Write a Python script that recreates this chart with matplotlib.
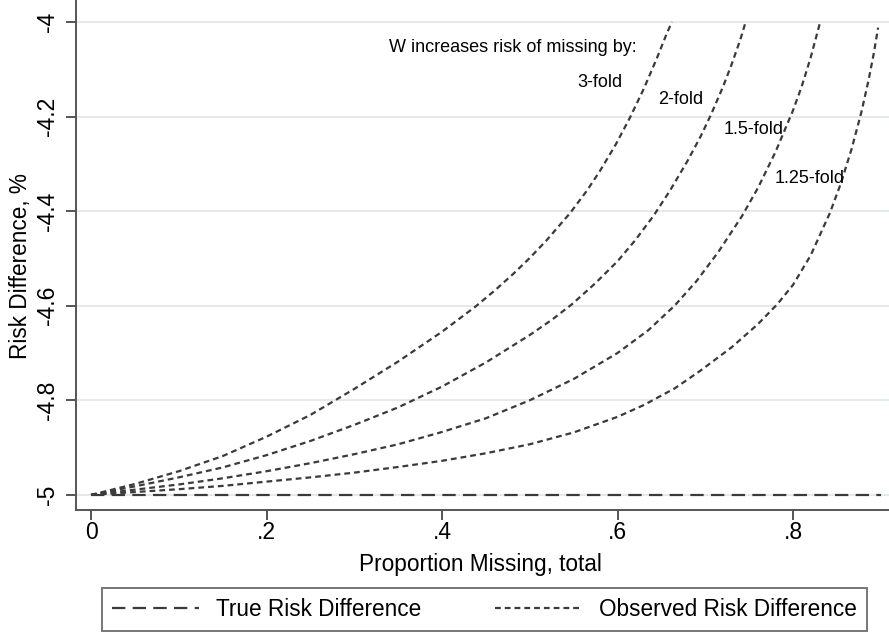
import matplotlib
matplotlib.use("Agg")
import matplotlib.pyplot as plt

plt.rcParams['font.family'] = ['Liberation Sans', 'DejaVu Sans']

# observed risk difference (%) by proportion missing, one curve per fold-increase
x_3fold = [0, 0.05, 0.10, 0.15, 0.20, 0.25, 0.30, 0.35, 0.40, 0.438, 0.46, 0.481, 0.50, 0.519,
           0.546, 0.565, 0.58, 0.598, 0.614, 0.63, 0.645, 0.656, 0.662]
y_3fold = [-5, -4.977, -4.950, -4.918, -4.877, -4.831, -4.776, -4.718, -4.655, -4.602, -4.568, -4.533, -4.499, -4.462,
           -4.404, -4.357, -4.315, -4.259, -4.203, -4.141, -4.076, -4.025, -4.0]

x_2fold = [0, 0.05, 0.10, 0.15, 0.20, 0.25, 0.30, 0.35, 0.40, 0.45, 0.50, 0.525, 0.548, 0.575, 0.60,
           0.62, 0.641, 0.66, 0.68, 0.695, 0.707, 0.72, 0.73, 0.74, 0.746]
y_2fold = [-5, -4.982, -4.963, -4.942, -4.916, -4.886, -4.852, -4.815, -4.771, -4.720, -4.662, -4.630, -4.597, -4.552, -4.506,
           -4.462, -4.410, -4.356, -4.293, -4.241, -4.194, -4.138, -4.090, -4.037, -4.0]

x_15fold = [0, 0.05, 0.10, 0.15, 0.20, 0.25, 0.30, 0.35, 0.40, 0.45, 0.50, 0.55, 0.60, 0.635, 0.665,
            0.69, 0.715, 0.742, 0.76, 0.78, 0.80, 0.81, 0.82, 0.831]
y_15fold = [-5, -4.989, -4.978, -4.965, -4.950, -4.933, -4.914, -4.893, -4.867, -4.838, -4.800, -4.755, -4.700, -4.652, -4.600,
            -4.548, -4.486, -4.410, -4.351, -4.275, -4.187, -4.136, -4.076, -4.0]

x_125fold = [0, 0.05, 0.10, 0.15, 0.20, 0.25, 0.30, 0.35, 0.40, 0.45, 0.50, 0.55, 0.60, 0.63, 0.665, 0.694,
             0.73, 0.76, 0.782, 0.80, 0.82, 0.842, 0.855, 0.867, 0.878, 0.886, 0.892, 0.897]
y_125fold = [-5, -4.994, -4.988, -4.981, -4.972, -4.963, -4.953, -4.941, -4.928, -4.912, -4.893, -4.868, -4.835, -4.810, -4.775, -4.738,
             -4.688, -4.639, -4.597, -4.556, -4.494, -4.404, -4.339, -4.267, -4.190, -4.124, -4.067, -4.012]

# true risk difference
x_true = [0, 0.9]
y_true = [-5, -5]

curve_labels = ['3-fold', '2-fold', '1.5-fold', '1.25-fold']
label_x = [0.554, 0.646, 0.721, 0.779]
label_y = [-4.129, -4.163, -4.228, -4.330]

xticks = [0, 0.2, 0.4, 0.6, 0.8]
xticklabels = ['0', '.2', '.4', '.6', '.8']
yticks = [-5, -4.8, -4.6, -4.4, -4.2, -4]
yticklabels = ['-5', '-4.8', '-4.6', '-4.4', '-4.2', '-4']

line_col = '#3a3a3a'
axis_col = '#555555'
grid_col = '#e3eaed'

fig = plt.figure(figsize=(8.89, 6.33), dpi=100)
ax = fig.add_axes([0.0855, 0.1943, 0.9145, 0.8057])

for yv in yticks:
    ax.axhline(yv, color=grid_col, lw=1.4, zorder=0)

true_line, = ax.plot(x_true, y_true, color=line_col, lw=1.6, dashes=(6.0, 3.3),
                     label='True Risk Difference')
obs_line = None
for xs, ys in [(x_3fold, y_3fold), (x_2fold, y_2fold), (x_15fold, y_15fold), (x_125fold, y_125fold)]:
    obs_line, = ax.plot(xs, ys, color=line_col, lw=1.6, dashes=(2.6, 1.8),
                        label='Observed Risk Difference')

ax.text(0.340, -4.055, 'W increases risk of missing by:', fontsize=13, ha='left', va='center')
for lab, lx, ly in zip(curve_labels, label_x, label_y):
    ax.text(lx, ly, lab, fontsize=13, ha='left', va='center')

ax.set_xlim(-0.0171, 0.9094)
ax.set_ylim(-5.032, -3.9535)
ax.set_xticks(xticks)
ax.set_xticklabels(xticklabels)
ax.set_yticks(yticks)
ax.set_yticklabels(yticklabels, rotation=90, va='center')

for s in ['top', 'right']:
    ax.spines[s].set_visible(False)
for s in ['left', 'bottom']:
    ax.spines[s].set_color(axis_col)
    ax.spines[s].set_linewidth(1.4)
ax.tick_params(axis='both', colors=axis_col, labelcolor='black', length=7, width=1.4, labelsize=16.5)
ax.tick_params(axis='x', pad=1)
ax.tick_params(axis='y', pad=5)

ax.set_xlabel('Proportion Missing, total', fontsize=16.3)
ax.xaxis.set_label_coords(0.4975, -0.085)
ax.set_ylabel('Risk Difference, %', fontsize=16.3)
ax.yaxis.set_label_coords(-0.054, 0.478)

leg = fig.legend(handles=[true_line, obs_line], loc='lower left', ncol=2, mode='expand',
                 bbox_to_anchor=(102 / 889, 2 / 633, 765 / 889, 45 / 633),
                 fontsize=16.3, handlelength=3.85, handletextpad=0.75,
                 frameon=True, fancybox=False, borderpad=0.45, borderaxespad=0)
leg.get_frame().set_edgecolor(axis_col)
leg.get_frame().set_linewidth(1.4)

fig.savefig('out.png', dpi=100)
